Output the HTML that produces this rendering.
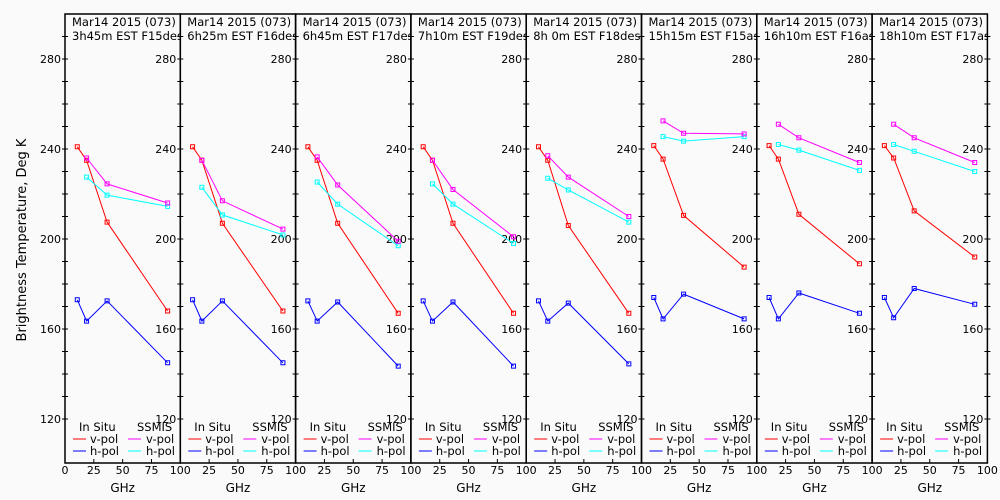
<!DOCTYPE html>
<html><head><meta charset="utf-8"><style>
html,body{margin:0;padding:0;background:#fafafa;}
svg{display:block;font-family:"DejaVu Sans","Liberation Sans",sans-serif;}
</style></head><body>
<svg id="chart" width="1000" height="500" viewBox="0 0 1000 500">
<rect x="0" y="0" width="1000" height="500" fill="#fafafa"/>
<text transform="translate(26,240) rotate(-90)" text-anchor="middle" font-size="13" fill="#000">Brightness Temperature, Deg K</text>
<g id="panels"></g>
</svg>
<script>
const freqs = [10.65, 18.7, 36.5, 89];
const subtitles = ["3h45m EST F15des","6h25m EST F16des","6h45m EST F17des","7h10m EST F19des","8h 0m EST F18des","15h15m EST F15asc","16h10m EST F16asc","18h10m EST F17asc"];
const insituV = [[241,235,207.5,168],[241,235,207,168],[241,235,207,167],[241,235,207,167],[241,235,206,167],[241.5,235.5,210.5,187.5],[241.5,235.5,211,189],[241.5,236,212.5,192]];
const insituH = [[173,163.5,172.5,145],[173,163.5,172.5,145],[172.5,163.5,172,143.5],[172.5,163.5,172,143.5],[172.5,163.5,171.5,144.5],[174,164.5,175.5,164.5],[174,164.5,176,167],[174,165,178,171]];
const ssmisV = [[236,224.5,216],[235,217,204.4],[236.5,224,199],[235,222,201],[237,227.5,210],[252.5,247,246.7],[251,245,234],[251,245,234]];
const ssmisH = [[227.5,219.5,214.5],[223,210.7,201.8],[225.3,215.5,197],[224.5,215.5,198],[227,221.8,207.5],[245.5,243.5,245.5],[242,239.5,230.5],[242,239,230]];
const yTickLabels = [120,160,200,240,280];
const xTickLabels = [0,25,50,75,100];

const NS="http://www.w3.org/2000/svg";
const g=document.getElementById('panels');
const X0=65, PW=115.3, TOP=14, BOT=463;
function yS(v){return 149-(v-240)*2.25;}
function xS(p,f){return X0+p*PW+f*PW/100;}
function el(tag,attrs,parent){const e=document.createElementNS(NS,tag);for(const k in attrs)e.setAttribute(k,attrs[k]);(parent||g).appendChild(e);return e;}
function txt(x,y,s,anchor,size,parent){const t=el('text',{x:x,y:y,'text-anchor':anchor||'start','font-size':size||11,fill:'#000'},parent);t.textContent=s;return t;}
const defs=el('defs',{});
for(let p=0;p<8;p++){
  const pg=el('g',{});
  
  
  const L=xS(p,0), R=xS(p,100);
  const cp=el('clipPath',{id:'cp'+p},defs);
  el('rect',{x:L,y:TOP,width:PW,height:BOT-TOP},cp);
  el('rect',{x:L,y:TOP,width:PW,height:BOT-TOP,fill:'none',stroke:'#000','stroke-width':1.5},pg);
  for(let v=120;v<=290;v+=10){
    el('line',{x1:R-3,x2:R+3,y1:yS(v),y2:yS(v),stroke:'#000'},pg);
    if(p===0) el('line',{x1:L-3,x2:L+3,y1:yS(v),y2:yS(v),stroke:'#000'},pg);
  }
  yTickLabels.forEach(v=>{
    const t=txt(R-4,yS(v)+4,String(v),'end',11,pg);
     
    if(p===0){const t2=txt(L-4,yS(v)+4,String(v),'end',11,pg);
       }
  });
  xTickLabels.forEach(f=>{
    el('line',{x1:xS(p,f),x2:xS(p,f),y1:BOT,y2:BOT-4,stroke:'#000'},pg);
    if(f>0||p===0){const t=txt(xS(p,f),474,String(f),'middle',11,pg);
       }
  });
  const gl=txt(L+PW/2,492,'GHz','middle',12,pg);
   
  const tg=el('g',{'clip-path':'url(#cp'+p+')'},pg);
  const t1=txt(L+7,26,'Mar14 2015 (073)','start',11.5,tg);
   
  const t2=txt(L+7,40,subtitles[p],'start',11.5,tg);
   
  const series=[[insituV[p],freqs,'#ff0000','insitu-v-pol'],[insituH[p],freqs,'#0000ff','insitu-h-pol'],[ssmisH[p],freqs.slice(1),'#00ffff','ssmis-h-pol'],[ssmisV[p],freqs.slice(1),'#ff00ff','ssmis-v-pol']];
  series.forEach(([vals,fs,col,name])=>{
    const pts=vals.map((v,i)=>xS(p,fs[i]).toFixed(1)+','+yS(v).toFixed(1)).join(' ');
    const pl=el('polyline',{points:pts,fill:'none',stroke:col,'stroke-width':1},pg);
    
    
    vals.forEach((v,i)=>{
      const r=el('rect',{x:xS(p,fs[i])-2,y:yS(v)-2,width:4,height:4,fill:'none',stroke:col,'stroke-width':1},pg);
      
      
    });
  });
  const lg=el('g',{},pg);
  
  
  txt(L+14,431,'In Situ','start',11.5,lg);
  txt(L+72,431,'SSMIS','start',11.5,lg);
  [['v-pol','#ff0000','#ff00ff',443],['h-pol','#0000ff','#00ffff',455]].forEach(([lab,c1,c2,y])=>{
    el('line',{x1:L+8,x2:L+21,y1:y-4,y2:y-4,stroke:c1},lg);
    txt(L+25,y,lab,'start',11.5,lg);
    el('line',{x1:L+63,x2:L+76,y1:y-4,y2:y-4,stroke:c2},lg);
    txt(L+81,y,lab,'start',11.5,lg);
  });
}
</script>
</body></html>
